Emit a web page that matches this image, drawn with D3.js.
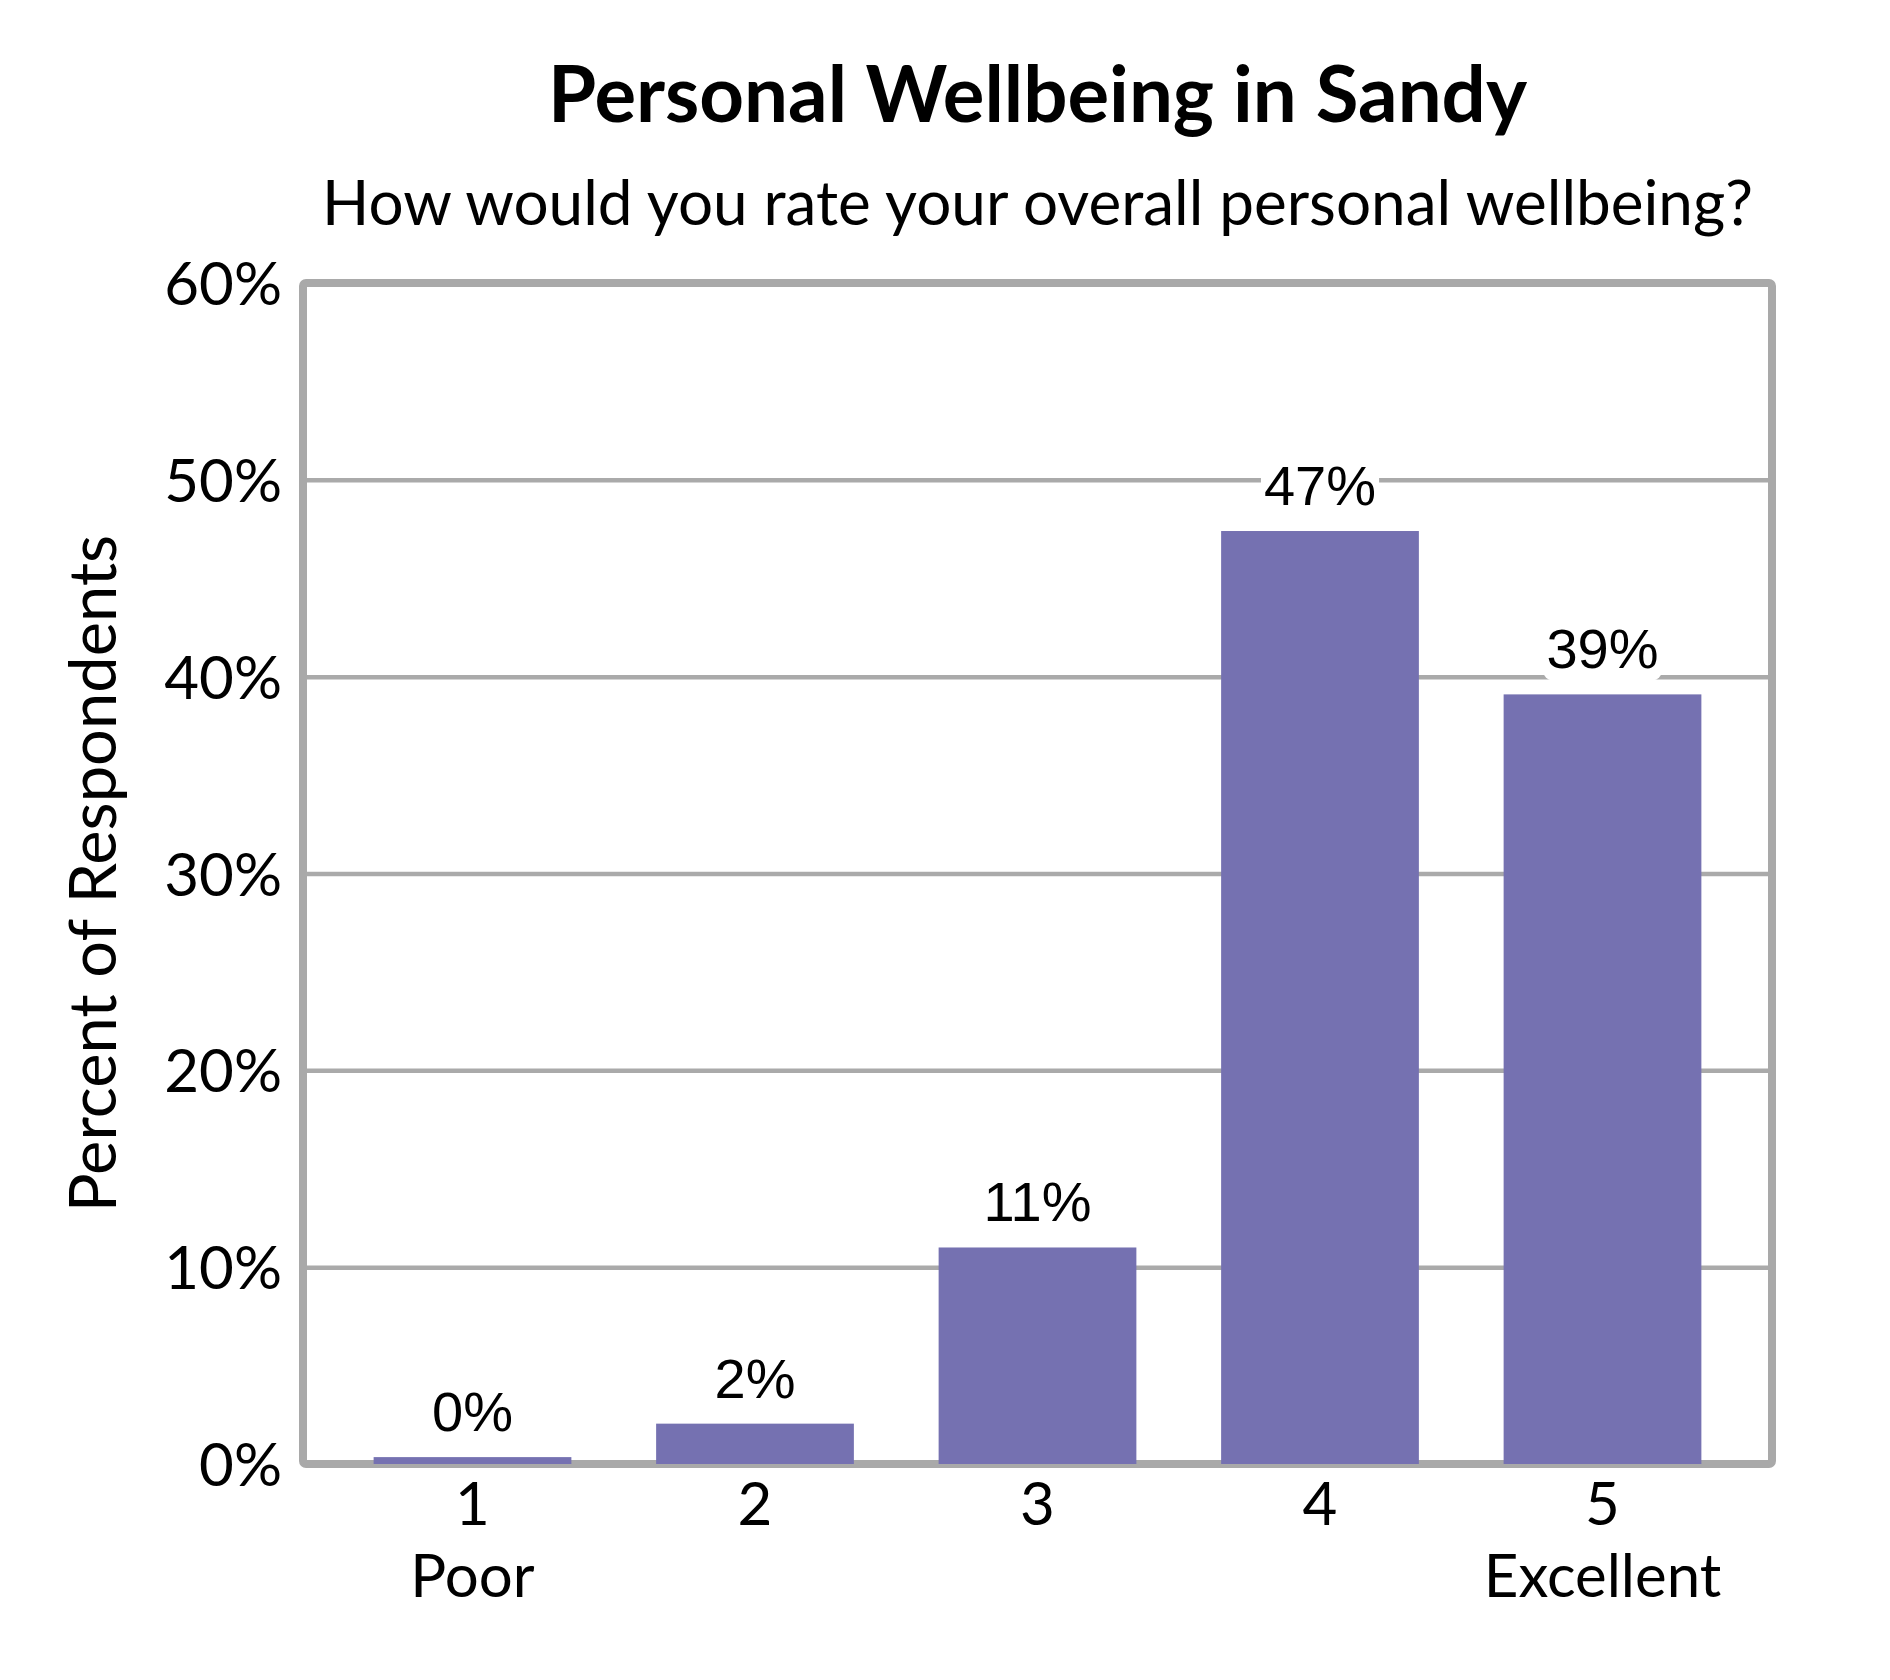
<!doctype html>
<html lang="en">
  <head>
    <meta charset="utf-8">
    <title>Personal Wellbeing in Sandy</title>
    <style>
      body { margin: 0; background: #fff; }
      .calib { font-family: Lato, "Open Sans", sans-serif; fill: #000; }
      .lab { font-family: "Liberation Sans", Arial, sans-serif; fill: #000; }
    </style>
  </head>
  <body>

    <script src="https://cdn.jsdelivr.net/npm/d3@7"></script>
    <script>

var categories  = ["1", "2", "3", "4", "5"];
var subLabels   = ["Poor", "", "", "", "Excellent"];
var values      = [0.35, 2.05, 11.0, 47.4, 39.1];
var valueLabels = ["0%", "2%", "11%", "47%", "39%"];
var yTicks      = [0, 10, 20, 30, 40, 50, 60];

var W = 1890, H = 1680;
var margin = {top: 283, right: 118, bottom: 216, left: 303},
    width  = W - margin.left - margin.right,
    height = H - margin.top  - margin.bottom;

var svg = d3.select("body")
    .append("svg")
    .attr("width", W)
    .attr("height", H);

svg.append("rect").attr("width", W).attr("height", H).attr("fill", "#fff");

var chart = svg.append("g")
    .attr("transform", "translate(" + margin.left + "," + margin.top + ")");

var y = d3.scaleLinear()
    .domain([0, 60])
    .range([height, 0]);

var x = d3.scaleBand()
    .domain(categories)
    .range([0, width])
    .paddingInner(0.3)
    .paddingOuter(0.25);

// gridlines
var grid = chart.append("g")
    .call(d3.axisLeft(y).tickValues(yTicks.slice(1, -1)).tickSize(-width).tickFormat(""));
grid.select(".domain").remove();
grid.selectAll("line").attr("stroke", "#aaaaaa").attr("stroke-width", 4.5);

// plot border
chart.append("rect")
    .attr("width", width)
    .attr("height", height)
    .attr("fill", "none")
    .attr("stroke", "#a9a9a9")
    .attr("stroke-width", 8)
    .attr("rx", 3);

// bars
chart.selectAll(".bar")
    .data(values)
    .enter()
    .append("rect")
    .attr("class", "bar")
    .attr("x", function(d, i){ return x(categories[i]); })
    .attr("y", function(d){ return y(d); })
    .attr("width", x.bandwidth())
    .attr("height", function(d){ return height - y(d); })
    .attr("fill", "#7571b1");

// value labels with white boxes
var labs = chart.selectAll(".vlab")
    .data(values)
    .enter()
    .append("g")
    .attr("class", "vlab");

labs.append("text")
    .attr("class", "lab")
    .attr("x", function(d, i){ return x(categories[i]) + x.bandwidth() / 2; })
    .attr("y", function(d){ return y(d) - 26; })
    .attr("text-anchor", "middle")
    .attr("font-size", 56)
    .text(function(d, i){ return valueLabels[i]; });

labs.each(function(){
    var g = d3.select(this);
    var b = g.select("text").node().getBBox();
    g.insert("rect", "text")
        .attr("x", b.x - 3)
        .attr("y", b.y + 2)
        .attr("width", b.width + 6)
        .attr("height", b.height - 2)
        .attr("rx", 9)
        .attr("fill", "#fff");
});

// y axis labels
var yAxis = chart.append("g")
    .call(d3.axisLeft(y).tickValues(yTicks).tickSize(0).tickPadding(21)
        .tickFormat(function(d){ return d + "%"; }));
yAxis.select(".domain").remove();
yAxis.selectAll("text")
    .attr("class", "calib")
    .attr("font-size", 60)
    .attr("dy", "0.36em");

// x axis labels
var xAxis = chart.append("g")
    .attr("transform", "translate(0," + height + ")")
    .call(d3.axisBottom(x).tickSize(0).tickPadding(0));
xAxis.select(".domain").remove();
xAxis.selectAll("text")
    .attr("class", "calib")
    .attr("font-size", 60)
    .attr("y", 61)
    .attr("dy", null);
xAxis.selectAll(".tick").append("text")
    .attr("class", "calib")
    .attr("font-size", 60)
    .attr("y", 133)
    .attr("text-anchor", "middle")
    .text(function(d, i){ return subLabels[i]; });

// titles
svg.append("text")
    .attr("class", "calib")
    .attr("x", margin.left + width / 2)
    .attr("y", 122)
    .attr("text-anchor", "middle")
    .attr("font-size", 78)
    .attr("font-weight", "bold")
    .text("Personal Wellbeing in Sandy");

svg.append("text")
    .attr("class", "calib")
    .attr("x", margin.left + width / 2)
    .attr("y", 225)
    .attr("text-anchor", "middle")
    .attr("font-size", 62)
    .text("How would you rate your overall personal wellbeing?");

svg.append("text")
    .attr("class", "calib")
    .attr("transform", "translate(116," + (margin.top + height / 2) + ") rotate(-90)")
    .attr("text-anchor", "middle")
    .attr("font-size", 65)
    .text("Percent of Respondents");

    </script>
  </body>
</html>
